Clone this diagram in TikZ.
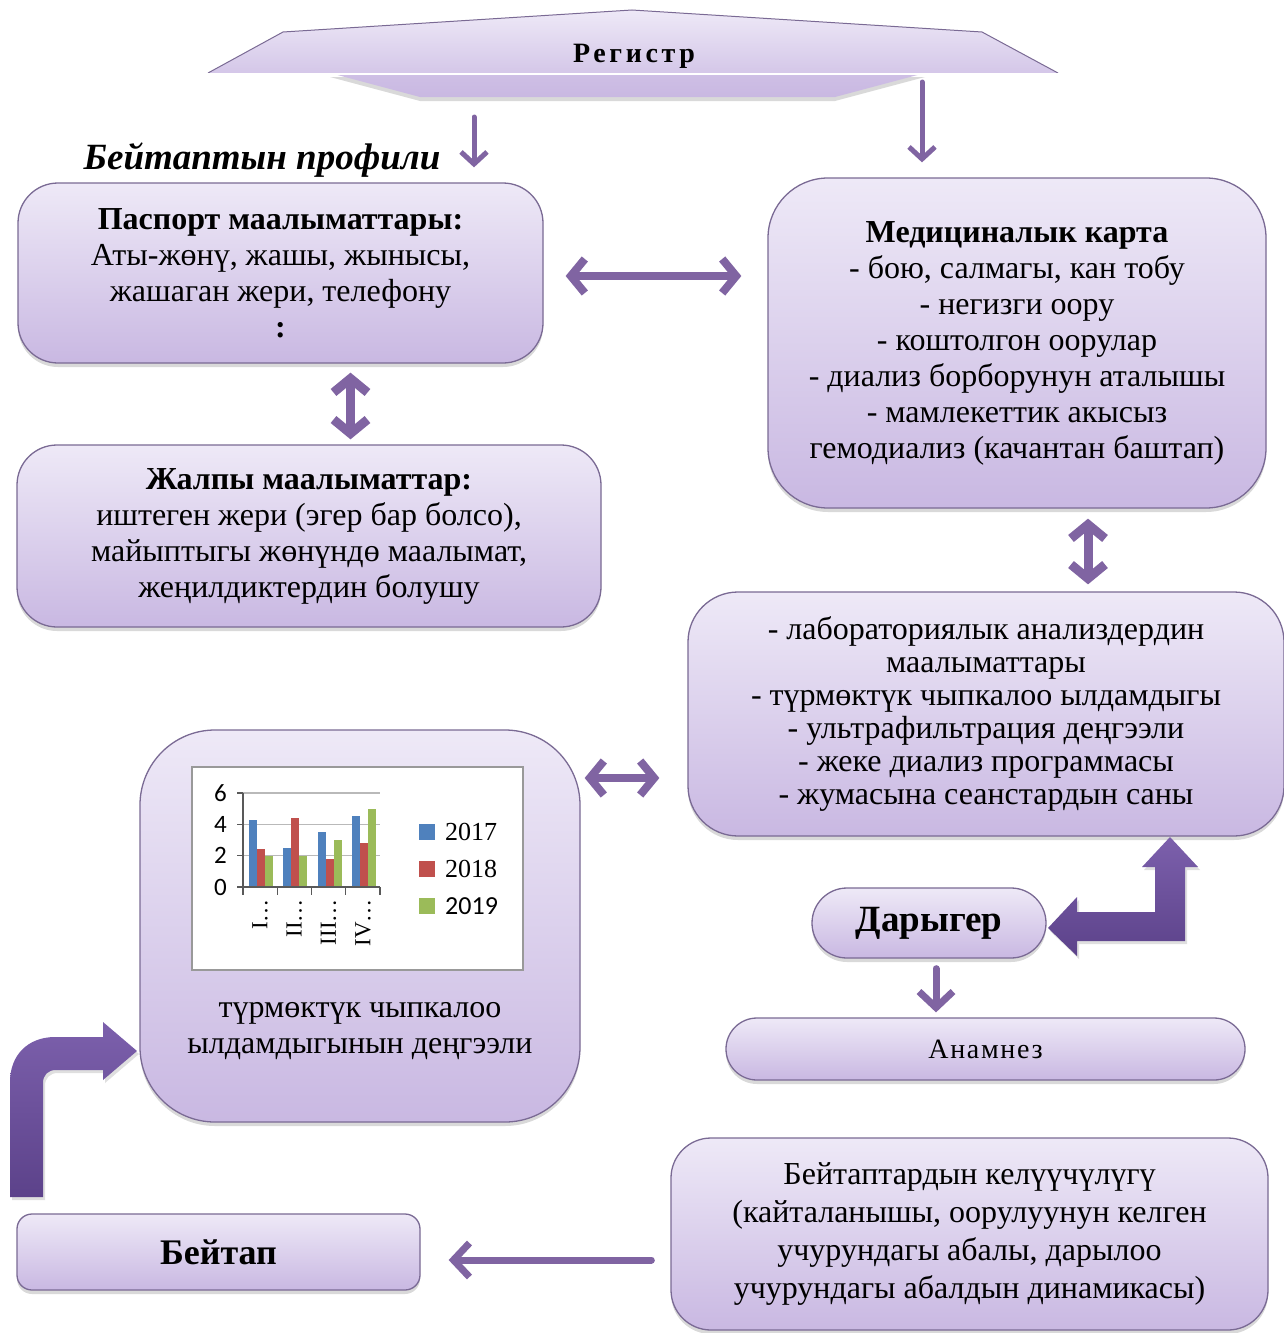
\documentclass[tikz,border=0pt]{standalone}
\usepackage{fontspec}
\setmainfont{Liberation Serif}
\newfontfamily\chartsans{Carlito}
\usetikzlibrary{arrows.meta,shadows}
\definecolor{boxtop}{RGB}{238,233,247}
\definecolor{boxbot}{RGB}{201,184,226}
\definecolor{boxline}{RGB}{122,106,148}
\definecolor{arrowc}{RGB}{128,100,162}
\definecolor{bentA}{RGB}{124,96,172}
\definecolor{bentB}{RGB}{92,66,138}
\definecolor{barA}{RGB}{79,129,189}
\definecolor{barB}{RGB}{192,80,77}
\definecolor{barC}{RGB}{155,187,89}
\begin{document}
\begin{tikzpicture}[x=1pt,y=-1pt,
  box/.style={draw=boxline, line width=1.3pt, top color=boxtop, bottom color=boxbot,
    align=center, inner sep=0pt,
    drop shadow={shadow xshift=0pt, shadow yshift=-4pt, opacity=0.3}},
  body/.style={font=\fontsize{32}{36}\selectfont},
  dbl/.style={draw=arrowc, line width=8pt, line cap=round, line join=round,
    {Straight Barb[length=14pt,width=34pt]}-{Straight Barb[length=14pt,width=34pt]}},
  sgl/.style={draw=arrowc, line width=5pt, line cap=round, line join=round,
    -{Straight Barb[length=12pt,width=26pt]}},
  sglthick/.style={draw=arrowc, line width=7pt, line cap=round, line join=round,
    -{Straight Barb[length=16pt,width=34pt]}},
  axlbl/.style={font=\chartsans\fontsize{25}{25}\selectfont, inner sep=0pt},
  catlbl/.style={font=\fontsize{23}{23}\selectfont, inner sep=0pt, rotate=90, anchor=east},
  leglbl/.style={font=\fontsize{26}{26}\selectfont, inner sep=0pt, anchor=west}
]
\useasboundingbox (0,0) rectangle (1283,1333);

% ---------- Register ----------
\shade[top color=boxbot!90, bottom color=boxbot, drop shadow={shadow xshift=0pt, shadow yshift=-4pt, opacity=0.3}]
  (330,73) -- (420,97) -- (835,97) -- (925,73) -- cycle;
\shade[top color=boxtop, bottom color=boxbot!70!boxtop]
  (208,73) -- (283,32) -- (632,10) -- (982,32) -- (1058,73) -- cycle;
\draw[boxline, line width=1pt] (208,73) -- (283,32) -- (632,10) -- (982,32) -- (1058,73);
\draw[white, line width=2pt] (200,74) -- (1066,74);
\node[font=\bfseries\fontsize{28}{28}\selectfont\addfontfeatures{LetterSpace=13}] (reg) at (634,56) {Регистр};

% ---------- profile title ----------
\node[font=\bfseries\itshape\fontsize{37}{37}\selectfont] (prof) at (262,160) {Бейтаптын профили};

% ---------- boxes ----------
\node[box, body, rounded corners=40pt, minimum width=525pt, minimum height=180pt] (pass) at (280.5,273)
  {\textbf{Паспорт маалыматтары:}\\Аты-жөнү, жашы, жынысы,\\жашаган жери, телефону\\\textbf{:}};

\node[box, body, rounded corners=60pt, minimum width=498pt, minimum height=330pt] (med) at (1017,343)
  {\textbf{Медициналык карта}\\- бою, салмагы, кан тобу\\- негизги оору\\- коштолгон оорулар\\- диализ борборунун аталышы\\- мамлекеттик акысыз\\гемодиализ (качантан баштап)};

\node[box, body, rounded corners=40pt, minimum width=584pt, minimum height=182pt] (gen) at (309,536)
  {\textbf{Жалпы маалыматтар:}\\иштеген жери (эгер бар болсо),\\майыптыгы жөнүндө маалымат,\\жеңилдиктердин болушу};

\node[box, font=\fontsize{32}{33}\selectfont, rounded corners=50pt, minimum width=596pt, minimum height=244pt] (lab) at (986,714)
  {- лабораториялык анализдердин\\маалыматтары\\- түрмөктүк чыпкалоо ылдамдыгы\\- ультрафильтрация деңгээли\\- жеке диализ программасы\\- жумасына сеанстардын саны};

\node[box, rounded corners=75pt, minimum width=440pt, minimum height=392pt] (chartbox) at (360,926) {};

\node[box, font=\bfseries\fontsize{37}{37}\selectfont, rounded corners=35pt, minimum width=234pt, minimum height=70pt] (doc) at (929,923) {Дарыгер};

\node[box, font=\fontsize{28}{28}\selectfont\addfontfeatures{LetterSpace=6}, rounded corners=31pt, minimum width=519pt, minimum height=62pt] (anam) at (985.5,1049) {Анамнез};

\node[box, font=\fontsize{32}{38}\selectfont, rounded corners=40pt, minimum width=597pt, minimum height=192pt] (kel) at (969.5,1234)
  {Бейтаптардын келүүчүлүгү\\(кайталанышы, оорулуунун келген\\учурундагы абалы, дарылоо\\учурундагы абалдын динамикасы)};

\node[box, font=\bfseries\fontsize{36}{36}\selectfont, rounded corners=15pt, minimum width=403pt, minimum height=76pt] (beitap) at (218.5,1252) {Бейтап};

% ---------- chart ----------
\node[draw=gray!80, line width=1.2pt, fill=white, minimum width=331pt, minimum height=203pt, inner sep=0pt] (chart) at (357.5,868.5) {};
\foreach \v in {2,4,6} \draw[gray!55, line width=1.2pt] (243,{887-15.67*\v}) -- (380,{887-15.67*\v});
\foreach \g/\a/\b/\c in {0/4.3/2.4/2.0, 1/2.5/4.4/2.0, 2/3.5/1.8/3.0, 3/4.5/2.8/5.0} {
  \fill[barA] ({249+34.3*\g},887) rectangle ({257+34.3*\g},{887-15.67*\a});
  \fill[barB] ({257+34.3*\g},887) rectangle ({265+34.3*\g},{887-15.67*\b});
  \fill[barC] ({265+34.3*\g},887) rectangle ({273+34.3*\g},{887-15.67*\c});
}
\draw[gray!70!black, line width=1.2pt] (243,793) -- (243,887) -- (380,887);
\foreach \v in {0,2,4,6} {
  \draw[gray!70!black, line width=1.2pt] (237,{887-15.67*\v}) -- (243,{887-15.67*\v});
  \node[axlbl, anchor=east] (ax\v) at (227,{887-15.67*\v}) {\v};
}
\foreach \k in {0,...,4} \draw[gray!70!black, line width=1.2pt] ({243+34.25*\k},887) -- ({243+34.25*\k},895);
\foreach \g/\t in {0/I…, 1/II…, 2/III…, 3/IV…}
  \node[catlbl] (cat\g) at ({260+34.3*\g},899) {\t};
\fill[barA] (419,824) rectangle (435,840);
\fill[barB] (419,861) rectangle (435,877);
\fill[barC] (419,898) rectangle (435,914);
\node[leglbl] (l1) at (445,832) {2017};
\node[leglbl] (l2) at (445,869) {2018};
\node[leglbl, font=\chartsans\fontsize{26}{26}\selectfont] (l3) at (445,906) {2019};

\node[body, align=center, inner sep=0pt] (cap) at (360,1031) {түрмөктүк чыпкалоо\\ылдамдыгынын деңгээли};

% ---------- connectors ----------
\coordinate (r1) at (474,117);
\coordinate (r2) at (922,82);
\draw[sgl, shorten >=15pt] (r1) -- (r1 |- pass.north);
\draw[sgl, shorten >=15pt] (r2) -- (r2 |- med.north);

\draw[dbl, shorten <=22pt, shorten >=26pt] ([yshift=-3pt]pass.east) -- ([yshift=-3pt]pass.east -| med.west);
\draw[dbl, line width=9pt, shorten <=9pt, shorten >=5pt] ([xshift=70pt]pass.south) -- ([xshift=70pt]pass.south |- gen.north);
\draw[dbl, line width=9pt, shorten <=10pt, shorten >=7pt] ([xshift=71pt]med.south) -- ([xshift=71pt]med.south |- lab.north);
\draw[dbl, shorten <=4pt, shorten >=28pt] ([yshift=148pt]chartbox.east) -- ([yshift=148pt]chartbox.east -| lab.west);

\draw[sglthick, shorten <=10pt, shorten >=5pt] ([xshift=7pt]doc.south) -- ([xshift=7pt]doc.south |- anam.north);
\draw[sglthick, shorten <=19pt, shorten >=28pt] ([yshift=-26pt]kel.west) -- ([yshift=-26pt]kel.west -| beitap.east);

% bent block arrows
\shade[top color=bentA, bottom color=bentB, drop shadow={shadow xshift=2pt, shadow yshift=-3pt, opacity=0.25}]
  (1048,928) -- (1077,897) -- (1077,912) -- (1155,912) -- (1155,867) -- (1142,867) -- (1170,837)
  -- (1198,867) -- (1185,867) -- (1185,941) -- (1077,941) -- (1077,956) -- cycle;

\shade[top color=bentA, bottom color=bentB, drop shadow={shadow xshift=2pt, shadow yshift=-3pt, opacity=0.25}]
  (10,1197) -- (10,1082) .. controls (10,1055) and (28,1037) .. (55,1037) -- (103,1037) -- (103,1022) -- (137,1051)
  -- (103,1080) -- (103,1070) -- (56,1070) .. controls (48,1070) and (43,1075) .. (43,1083) -- (43,1197) -- cycle;
\end{tikzpicture}
\end{document}
